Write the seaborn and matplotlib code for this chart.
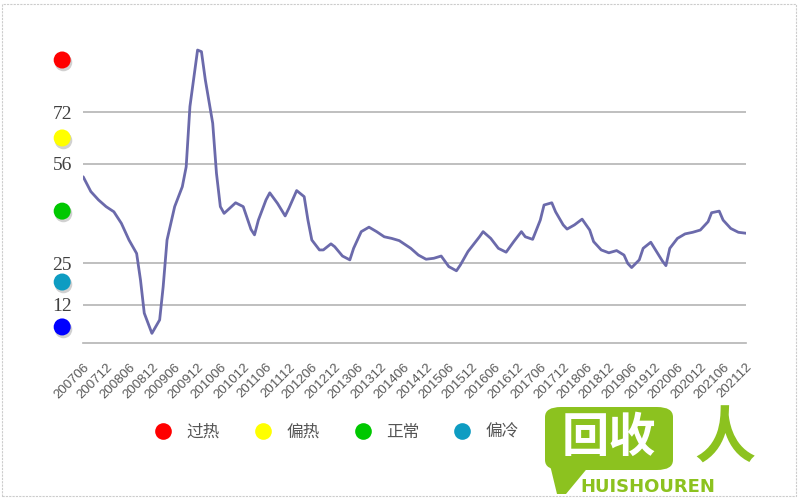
import pandas as pd
import numpy as np
import seaborn as sns
import matplotlib.pyplot as plt
import matplotlib.transforms as mtransforms
from matplotlib.lines import Line2D
from matplotlib.patches import FancyBboxPatch, Rectangle, Polygon

sns.set_theme(style="white")
plt.rcParams["font.family"] = ["Noto Sans CJK SC", "DejaVu Sans"]

# index values (month, value)
months = ["200706", "200708", "200710", "200712", "200802", "200804", "200806", "200808",
          "200809", "200810", "200812", "200902", "200903", "200904", "200906", "200908",
          "200909", "200910", "200912", "201001", "201002", "201004", "201005", "201006",
          "201007", "201008", "201010", "201012", "201102", "201103", "201104", "201106",
          "201107", "201109", "201111", "201112", "201202", "201204", "201205", "201206",
          "201208", "201209", "201211", "201212", "201302", "201304", "201305", "201307",
          "201309", "201311", "201401", "201403", "201405", "201408", "201410", "201412",
          "201502", "201504", "201506", "201508", "201509", "201511", "201602", "201603",
          "201605", "201607", "201609", "201611", "201701", "201702", "201704", "201706",
          "201707", "201709", "201710", "201712", "201801", "201803", "201805", "201807",
          "201808", "201810", "201812", "201902", "201904", "201905", "201906", "201908",
          "201909", "201911", "201912", "202002", "202003", "202004", "202006", "202008",
          "202010", "202012", "202102", "202103", "202105", "202106", "202108", "202110",
          "202112"]
index = [51.9, 47.3, 44.7, 42.6, 41.0, 37.4, 32.2, 28.0,
         19.7, 9.4, 3.1, 7.3, 17.6, 32.2, 42.6, 48.8,
         55.0, 73.8, 91.4, 90.9, 82.1, 68.6, 53.0, 42.6,
         40.5, 41.6, 43.8, 42.6, 35.5, 33.8, 38.4, 44.7,
         46.9, 43.6, 39.7, 42.1, 47.6, 45.7, 38.4, 32.2,
         29.1, 29.1, 31.0, 30.1, 27.2, 26.0, 29.6, 34.8,
         36.2, 34.8, 33.2, 32.7, 32.0, 29.6, 27.5, 26.2,
         26.5, 27.2, 23.9, 22.6, 24.4, 28.6, 33.2, 34.8,
         32.7, 29.6, 28.4, 31.7, 34.8, 33.2, 32.4, 38.4,
         43.1, 43.8, 41.0, 36.9, 35.6, 36.9, 38.7, 35.3,
         31.7, 29.1, 28.2, 28.9, 27.5, 24.9, 23.6, 26.0,
         29.6, 31.5, 29.6, 25.7, 24.2, 29.6, 32.7, 34.1,
         34.6, 35.3, 37.9, 40.7, 41.2, 38.4, 35.8, 34.6,
         34.3]

grid_levels = [12, 25, 56, 72]
level_names = ["过热", "偏热", "正常", "偏冷"]
level_pos = [88.3, 64.0, 41.2, 19.1, 5.1]
level_colors = ["#ff0000", "#ffff00", "#00c800", "#0e9cc2", "#0000ff"]

df = pd.DataFrame({"month": pd.to_datetime(months, format="%Y%m"), "index": index})
tick_dates = pd.date_range("2007-06-01", "2021-12-01", freq="6MS")

fig = plt.figure(figsize=(8, 5), dpi=100)
ax = fig.add_axes([0.104, 0.3134, 0.8285, 0.6096])

for g in grid_levels:
    ax.axhline(g, color="#b4b4b4", lw=1.2, zorder=1)
sns.lineplot(data=df, x="month", y="index", ax=ax, color="#6b6aab", lw=2.0, zorder=3)

ax.set_xlim(df.month.iloc[0], df.month.iloc[-1])
ax.set_ylim(0, 95)
ax.set_yticks(grid_levels)
ax.set_yticklabels([str(g) for g in grid_levels], fontfamily="Liberation Serif",
                   fontsize=14, color="#404040")
ax.set_xticks(tick_dates)
ax.set_xticklabels(tick_dates.strftime("%Y%m"), rotation=45, ha="right",
                   rotation_mode="anchor", fontfamily="Liberation Sans",
                   fontsize=9.5, color="#595959")
ax.tick_params(axis="both", length=0)
ax.tick_params(axis="x", pad=13)
ax.tick_params(axis="y", pad=8)
ax.set_xlabel("")
ax.set_ylabel("")
sns.despine(ax=ax, left=True)
ax.spines["bottom"].set_color("#b4b4b4")
ax.spines["bottom"].set_linewidth(1.2)

# coloured level dots on the left (grey shadow drawn first)
trans = mtransforms.blended_transform_factory(ax.transAxes, ax.transData)
shift = mtransforms.offset_copy(trans, fig=fig, x=1, y=-2, units="dots")
ax.scatter([-0.0317] * len(level_pos), level_pos, s=160, c="#000000", alpha=0.18,
           linewidths=0, transform=shift, clip_on=False, zorder=4)
ax.scatter([-0.0317] * len(level_pos), level_pos, s=150, c=level_colors,
           linewidths=0, transform=trans, clip_on=False, zorder=5)

# legend
handles = [Line2D([], [], marker="o", ls="", markersize=12, markerfacecolor=c,
                  markeredgewidth=0) for c in level_colors[:4]]
ax.legend(handles, level_names, loc="center", bbox_to_anchor=(0.421, 0.136),
          bbox_transform=fig.transFigure, ncol=4, frameon=False, handlelength=1,
          handletextpad=0.88, columnspacing=2.1, labelcolor="#555555",
          prop={"family": "Noto Sans CJK SC", "size": 12})

# watermark logo
green = "#8cc21f"
fig.patches.append(FancyBboxPatch((545 / 800, 1 - 470 / 500), 128 / 800, 63 / 500,
                                  boxstyle="round,pad=0,rounding_size=0.02",
                                  transform=fig.transFigure, fc=green, ec="none"))
fig.patches.append(Polygon([(550 / 800, 1 - 465 / 500), (590 / 800, 1 - 465 / 500),
                            (566 / 800, 1 - 494 / 500), (557 / 800, 1 - 494 / 500)],
                           closed=True, transform=fig.transFigure, fc=green, ec="none"))
fig.text(609 / 800, 1 - 438 / 500, "回收", color="white", fontsize=34, fontweight="bold",
         ha="center", va="center", family=["Noto Sans CJK SC"])
fig.text(725 / 800, 1 - 440 / 500, "人", color=green, fontsize=44, fontweight="bold",
         ha="center", va="center", family=["Noto Sans CJK SC"])
fig.text(648 / 800, 1 - 487 / 500, "HUISHOUREN", color=green, fontsize=13,
         fontweight="bold", ha="center", va="center", family=["DejaVu Sans"])

# light dashed frame
fig.patches.append(Rectangle((0.003, 0.008), 0.992, 0.985, transform=fig.transFigure,
                             fill=False, ec="#cccccc", ls=(0, (2, 1)), lw=0.8))

fig.savefig("out.png", dpi=100)
